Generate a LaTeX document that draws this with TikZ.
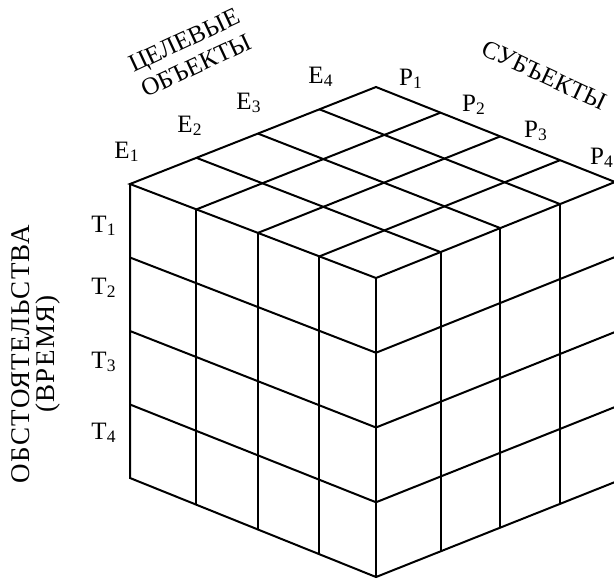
\documentclass[tikz,border=0pt]{standalone}
\usepackage{fontspec}
\setmainfont{Liberation Serif}
\newfontfamily\widefont[LetterSpace=5]{Liberation Serif}
\usetikzlibrary{calc}

\begin{document}
\begin{tikzpicture}[
    x=0.5pt, y=-0.5pt,
    edge/.style={line width=1pt, line join=miter},
    lbl/.style={font=\fontsize{12.5}{14}\selectfont, inner sep=0pt},
    title/.style={font=\fontsize{12.5}{14}\selectfont, align=center, inner sep=0pt}
]
\useasboundingbox (0,0) rectangle (614,579);

% corners of the cube
\coordinate (L) at (130,184);
\coordinate (B) at (376,87);
\coordinate (R) at (615,182);
\coordinate (F) at (376,278);
\coordinate (BL) at (130,478);
\coordinate (BF) at (376,577);
\coordinate (BR) at (615,482);

% grid on the three faces
\foreach \f in {0.27,0.52,0.77} {
  \draw[edge] ($(L)!\f!(F)$) -- ($(BL)!\f!(BF)$);
  \draw[edge] ($(F)!\f!(R)$) -- ($(BF)!\f!(BR)$);
  \draw[edge] ($(L)!\f!(B)$) -- ($(F)!\f!(R)$);
  \draw[edge] ($(L)!\f!(F)$) -- ($(B)!\f!(R)$);
}
\foreach \v in {0.25,0.5,0.75} {
  \draw[edge] ($(L)!\v!(BL)$) -- ($(F)!\v!(BF)$) -- ($(R)!\v!(BR)$);
}

% outline
\draw[edge] (L) -- (B) -- (R) -- (F) -- cycle;
\draw[edge] (L) -- (BL) -- (BF) -- (BR) -- (R);
\draw[edge] (F) -- (BF);

% labels
\node[lbl] (e1) at (127,152) {E\textsubscript{1}};
\node[lbl] (e2) at (190,126) {E\textsubscript{2}};
\node[lbl] (e3) at (249,103) {E\textsubscript{3}};
\node[lbl] (e4) at (321,77) {E\textsubscript{4}};
\node[lbl] (p1) at (411,79) {P\textsubscript{1}};
\node[lbl] (p2) at (474,105) {P\textsubscript{2}};
\node[lbl] (p3) at (536,131) {P\textsubscript{3}};
\node[lbl] (p4) at (602,158) {P\textsubscript{4}};
\node[lbl] (t1) at (104,226) {T\textsubscript{1}};
\node[lbl] (t2) at (104,288) {T\textsubscript{2}};
\node[lbl] (t3) at (104,362) {T\textsubscript{3}};
\node[lbl] (t4) at (104,433) {T\textsubscript{4}};

\node[title, rotate=25] (objects) at (190,53) {ЦЕЛЕВЫЕ\\ОБЪЕКТЫ};
\node[title, rotate=-25] (subjects) at (544,75) {СУБЪЕКТЫ};
\node[title, font=\widefont\fontsize{13.5}{12.5}\selectfont, rotate=90] (time) at (36,354) {ОБСТОЯТЕЛЬСТВА\\(ВРЕМЯ)};
\end{tikzpicture}
\end{document}
